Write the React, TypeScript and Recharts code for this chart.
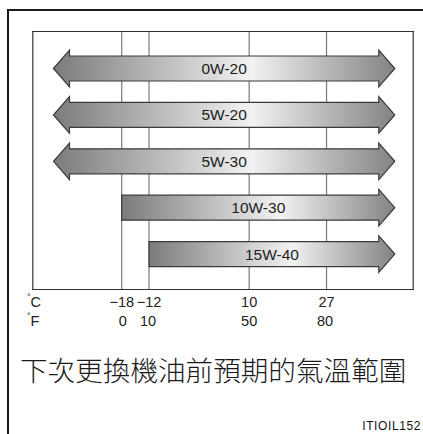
import React from 'react';
import { BarChart, Bar, XAxis, YAxis, CartesianGrid } from 'recharts';

// oil grades, top to bottom
const grades = ['0W-20', '5W-20', '5W-30', '10W-30', '15W-40'];
// temperature span of each grade in °C (arrow ends)
const lowTempsC = [-33, -33, -33, -18, -12];
const highTempsC = [42, 42, 42, 42, 42];
// true = open-ended on the cold side (arrowhead)
const openLow = [true, true, true, false, false];

const ticksC = [-18, -12, 10, 27];
const ticksF = [0, 10, 50, 80];

const domainC: [number, number] = [-37.5, 46];
const toF = (c: number) => c * 1.8 + 32;
const domainF: [number, number] = [toF(domainC[0]), toF(domainC[1])];

const data = grades.map((name, i) => ({
  name,
  range: [lowTempsC[i], highTempsC[i]],
  openLow: openLow[i],
}));

const FONT = '"Liberation Sans", Arial, Helvetica, sans-serif';
const W = 423;
const CHART_H = 340;
const MARGIN = { top: 32, right: 10, left: 33, bottom: 12 };

const fmtMinus = (v: number) => (v < 0 ? '\u2212' + Math.abs(v) : String(v));

const ArrowShape = (props: any) => {
  const { x, y, width, height, payload } = props;
  const cy = y + height / 2;
  const h = 12.5;
  const H = 18.3;
  const hl = 16;
  const x2 = x + width;
  const pts: number[][] = [];
  if (payload.openLow) pts.push([x, cy], [x + hl, cy - H], [x + hl, cy - h]);
  else pts.push([x, cy - h]);
  pts.push([x2 - hl, cy - h], [x2 - hl, cy - H], [x2, cy], [x2 - hl, cy + H], [x2 - hl, cy + h]);
  if (payload.openLow) pts.push([x + hl, cy + h], [x + hl, cy + H]);
  else pts.push([x, cy + h]);
  return (
    <g>
      <polygon
        points={pts.map((p) => p.join(',')).join(' ')}
        fill="url(#arrowGrad)"
        stroke="#3a3a3a"
        strokeWidth={1.2}
      />
      <text
        x={x + width / 2}
        y={cy}
        dy="0.36em"
        textAnchor="middle"
        fontSize={15.5}
        fill="#1c1c1c"
        fontFamily={FONT}
      >
        {payload.name}
      </text>
    </g>
  );
};

// plain tick text, baseline ~15px under the axis top
const TickText = (props: any) => {
  const { x, y, payload } = props;
  return (
    <text x={x} y={y} dy={10} textAnchor="middle" fontSize={14.5} fill="#222" fontFamily={FONT}>
      {fmtMinus(payload.value)}
    </text>
  );
};

const unitLabel = (unit: string, dyBase: number) => (props: any) => {
  const { x, y } = props.viewBox;
  return (
    <text x={x - 6} y={y + dyBase} fontFamily={FONT} fill="#222">
      <tspan fontSize={9} dy={-7}>°</tspan>
      <tspan fontSize={14.5} dy={7}>{unit}</tspan>
    </text>
  );
};

export default function App() {
  return (
    <div style={{ position: 'absolute', left: 0, top: 0, width: W, height: 434, background: '#fff', overflow: 'hidden' }}>
      {/* outer frame (only top/left edges visible) */}
      <div
        style={{
          position: 'absolute',
          left: 7,
          top: 9,
          width: W,
          height: 434,
          borderTop: '2px solid #1a1a1a',
          borderLeft: '2px solid #1a1a1a',
        }}
      />
      {/* plot box */}
      <div
        style={{
          position: 'absolute',
          left: MARGIN.left - 1,
          top: MARGIN.top - 1,
          width: W - MARGIN.left - MARGIN.right + 2,
          height: 289 - MARGIN.top + 2,
          border: '1.5px solid #333',
          boxSizing: 'border-box',
        }}
      />
      <div style={{ position: 'absolute', left: 0, top: 0 }}>
        <BarChart
          width={W}
          height={CHART_H}
          data={data}
          layout="vertical"
          margin={MARGIN}
          barSize={37}
        >
          <defs>
            <linearGradient id="arrowGrad" x1="0" y1="0" x2="1" y2="0">
              <stop offset="0%" stopColor="#7b7b7e" />
              <stop offset="58%" stopColor="#f2f2f2" />
              <stop offset="100%" stopColor="#838386" />
            </linearGradient>
          </defs>
          <CartesianGrid xAxisId="c" horizontal={false} stroke="#7a7a7a" strokeWidth={1.2} />
          <XAxis
            xAxisId="c"
            type="number"
            domain={domainC}
            allowDataOverflow
            ticks={ticksC}
            interval={0}
            axisLine={false}
            tickLine={false}
            height={19}
            tick={TickText}
            label={{ content: unitLabel('C', 18) }}
          />
          <XAxis
            xAxisId="f"
            type="number"
            domain={domainF}
            allowDataOverflow
            ticks={ticksF}
            interval={0}
            axisLine={false}
            tickLine={false}
            height={20}
            tick={TickText}
            label={{ content: unitLabel('F', 18) }}
          />
          <YAxis type="category" dataKey="name" hide padding={{ top: 13, bottom: 12 }} />
          <Bar xAxisId="c" dataKey="range" shape={ArrowShape} isAnimationActive={false} />
        </BarChart>
      </div>
      <div
        style={{
          position: 'absolute',
          left: 20,
          top: 353,
          fontSize: 27.6,
          lineHeight: '32px',
          fontWeight: 300,
          fontFamily: '"Noto Sans CJK TC", "Noto Sans CJK SC", sans-serif',
          color: '#1a1a1a',
          whiteSpace: 'nowrap',
        }}
      >
        下次更換機油前預期的氣溫範圍
      </div>
      <div
        style={{
          position: 'absolute',
          right: 2,
          top: 420,
          fontSize: 12,
          lineHeight: '13px',
          letterSpacing: 0.6,
          fontFamily: FONT,
          color: '#111',
        }}
      >
        ITIOIL152
      </div>
    </div>
  );
}
